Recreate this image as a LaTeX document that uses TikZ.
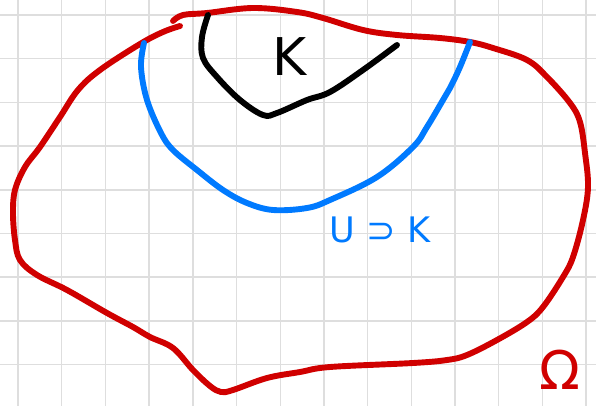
\documentclass[tikz,border=0pt]{standalone}
\usepackage{fontspec}
\newfontfamily\handfont{DejaVu Sans}
\definecolor{omegared}{RGB}{208,0,0}
\definecolor{openblue}{RGB}{0,122,255}
\definecolor{gridgray}{RGB}{222,222,222}

\begin{document}
\begin{tikzpicture}[x=0.025cm,y=-0.025cm,line cap=round,line join=round]
    \useasboundingbox (0,0) rectangle (596,406);

    % === Paper grid ===
    \foreach \i in {0,...,13}
        \draw[gridgray,line width=1pt] ({18+43.7*\i},0) -- ({18+43.7*\i},406);
    \foreach \j in {0,...,8}
        \draw[gridgray,line width=1pt] (0,{15+43.7*\j}) -- (596,{15+43.7*\j});

    % === Omega: outer domain ===
    \draw[omegared,line width=4.2pt] plot[smooth,tension=0.6] coordinates {
        (173,21) (183,15) (207,13) (253,8) (297,12) (323,18) (363,30)
        (397,35) (440,38) (470,42) (493,48) (527,60) (547,77) (570,103)
        (580,122) (585,153) (588,187) (583,220) (573,257) (563,277)
        (543,307) (527,322) (497,340) (467,355) (447,360) (413,363)
        (330,367) (300,372) (267,378) (233,390) (221,392) (210,386)
        (193,370) (173,348) (150,337) (133,327) (107,313) (67,290)
        (37,275) (20,260) (15,240) (13,213) (15,190) (25,167) (40,147)
        (60,117) (78,90) (100,70) (140,44) (163,32) (180,26)};

    % === U: open set ===
    \draw[openblue,line width=4.2pt] plot[smooth,tension=0.6] coordinates {
        (144,43) (141,67) (147,100) (161,133) (173,150) (197,170)
        (223,190) (247,203) (273,210) (307,208) (330,200) (377,177)
        (413,147) (427,127) (443,100) (450,88) (460,67) (470,42)};

    % === K: compact set ===
    \draw[black,line width=4.2pt] plot[smooth,tension=0.6] coordinates {
        (208,15) (202,37) (203,58) (217,77) (240,100) (263,115)
        (277,113) (307,100) (330,92) (363,70) (397,45)};

    % Labels
    \node[inner sep=0,font=\handfont\fontsize{37}{37}\selectfont] (labK) at (290,57) {K};
    \node[inner sep=0,openblue,font=\handfont\fontsize{25}{25}\selectfont] (labU) at (380,230) {U ⊃ K};
    \node[inner sep=0,omegared,font=\handfont\fontsize{38}{38}\selectfont] (labOmega) at (560,370) {Ω};
\end{tikzpicture}
\end{document}
